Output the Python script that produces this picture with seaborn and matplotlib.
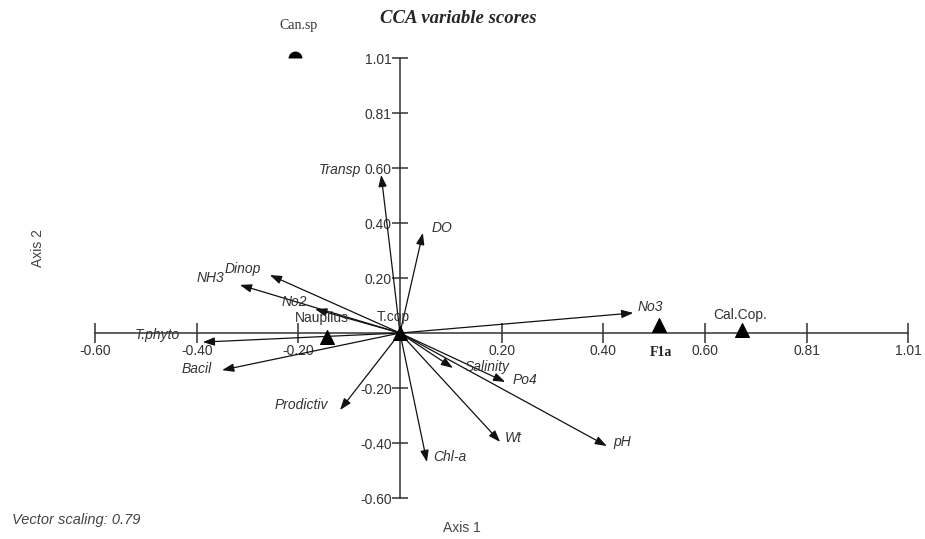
import numpy as np
import pandas as pd
import matplotlib
matplotlib.use('Agg')
import matplotlib.pyplot as plt
import seaborn as sns

# environmental variable vectors (CCA scores)
env_names = ['Transp', 'DO', 'Dinop', 'NH3', 'No2', 'T.phyto', 'Bacil', 'Prodictiv',
             'Chl-a', 'Wt', 'pH', 'Po4', 'Salinity', 'No3']
env_x = [-0.037, 0.045, -0.256, -0.315, -0.167, -0.388, -0.350, -0.118,
         0.053, 0.197, 0.407, 0.207, 0.104, 0.459]
env_y = [0.575, 0.364, 0.211, 0.175, 0.087, -0.033, -0.135, -0.280,
         -0.469, -0.396, -0.411, -0.178, -0.127, 0.073]

# species scores
sp_names = ['Nauplius', 'T.cop', 'F1a', 'Cal.Cop.']
sp_x = [-0.144, 0.0, 0.51, 0.673]
sp_y = [-0.015, 0.0, 0.03, 0.01]
can_x, can_y = -0.207, 1.0

tick_pos = [-0.6, -0.4, -0.2, 0.2, 0.4, 0.6, 0.8, 1.0]
xtick_labels = ['-0.60', '-0.40', '-0.20', '0.20', '0.40', '0.60', '0.81', '1.01']
ytick_labels = ['-0.60', '-0.40', '-0.20', '0.20', '0.40', '0.60', '0.81', '1.01']

sns.set_style('white')
plt.rcParams['font.family'] = ['Liberation Sans', 'DejaVu Sans']

fig = plt.figure(figsize=(9.25, 5.39), dpi=100)
ax = fig.add_axes([0, 0, 1, 1])
ax.set_xlim(-0.787, 1.033)
ax.set_ylim(-0.749, 1.211)

for side in ['top', 'right']:
    ax.spines[side].set_visible(False)
ax.spines['left'].set_position(('data', 0))
ax.spines['bottom'].set_position(('data', 0))
ax.spines['left'].set_bounds(-0.6, 1.0)
ax.spines['bottom'].set_bounds(-0.6, 1.0)
for side in ['left', 'bottom']:
    ax.spines[side].set_color('#333333')
    ax.spines[side].set_linewidth(1.1)

ax.set_xticks(tick_pos)
ax.set_xticklabels(xtick_labels)
ax.set_yticks(tick_pos)
ax.set_yticklabels(ytick_labels)
ax.tick_params(axis='x', bottom=True, direction='inout', length=14, width=1.1, pad=1,
               labelsize=10, colors='#333333')
ax.tick_params(axis='y', left=True, direction='inout', length=12, width=1.1, pad=0,
               labelsize=10, colors='#333333')
ax.grid(False)

# arrows
for name, x, y in zip(env_names, env_x, env_y):
    ax.annotate('', xy=(x, y), xytext=(0, 0),
                arrowprops=dict(arrowstyle='-|>,head_length=0.7,head_width=0.25',
                                color='#111111', lw=0.9, shrinkA=0, shrinkB=0))

env_lab = {
    'Transp': (-0.076, 0.593, 'right'),
    'DO': (0.063, 0.382, 'left'),
    'Dinop': (-0.345, 0.232, 'left'),
    'NH3': (-0.400, 0.200, 'left'),
    'No2': (-0.232, 0.113, 'left'),
    'T.phyto': (-0.522, -0.007, 'left'),
    'Bacil': (-0.429, -0.132, 'left'),
    'Prodictiv': (-0.246, -0.262, 'left'),
    'Chl-a': (0.065, -0.451, 'left'),
    'Wt': (0.207, -0.382, 'left'),
    'pH': (0.419, -0.396, 'left'),
    'Po4': (0.222, -0.171, 'left'),
    'Salinity': (0.128, -0.122, 'left'),
    'No3': (0.468, 0.095, 'left'),
}
for name in env_names:
    tx, ty, ha = env_lab[name]
    ax.text(tx, ty, name, ha=ha, va='center', fontsize=10, style='italic',
            color='#333333')

# species points
df_sp = pd.DataFrame({'x': sp_x, 'y': sp_y, 'name': sp_names})
sns.scatterplot(data=df_sp, x='x', y='y', marker='^', s=100, color='black',
                edgecolor='black', ax=ax, zorder=5)
ax.plot([can_x], [can_y], marker='o', markersize=10, fillstyle='top',
        markerfacecolor='black', markerfacecoloralt='none',
        markeredgewidth=0, linestyle='none')

ax.text(-0.207, 0.055, 'Nauplius', ha='left', va='center', fontsize=10, color='#333333')
ax.text(-0.045, 0.058, 'T.cop', ha='left', va='center', fontsize=10, color='#333333')
ax.text(0.616, 0.065, 'Cal.Cop.', ha='left', va='center', fontsize=10, color='#333333')
ax.text(0.492, -0.069, 'F1a', ha='left', va='center', fontsize=10,
        family='Liberation Serif', fontweight='bold', color='#222222')
ax.text(-0.2, 1.12, 'Can.sp', ha='center', va='center', fontsize=10,
        family='Liberation Serif', color='#333333')

ax.text(0.114, 1.145, 'CCA variable scores', ha='center', va='center', fontsize=13.5,
        family='Liberation Serif', style='italic', fontweight='bold')
ax.text(0.122, -0.709, 'Axis 1', ha='center', va='center', fontsize=10, color='#444444')
ax.text(-0.713, 0.309, 'Axis 2', ha='center', va='center', rotation=90,
        fontsize=10, color='#444444')
ax.text(-0.764, -0.68, 'Vector scaling: 0.79', ha='left', va='center', fontsize=10.5,
        style='italic', color='#444444')

ax.set_xlabel('')
ax.set_ylabel('')
fig.savefig('out.png', dpi=100)
